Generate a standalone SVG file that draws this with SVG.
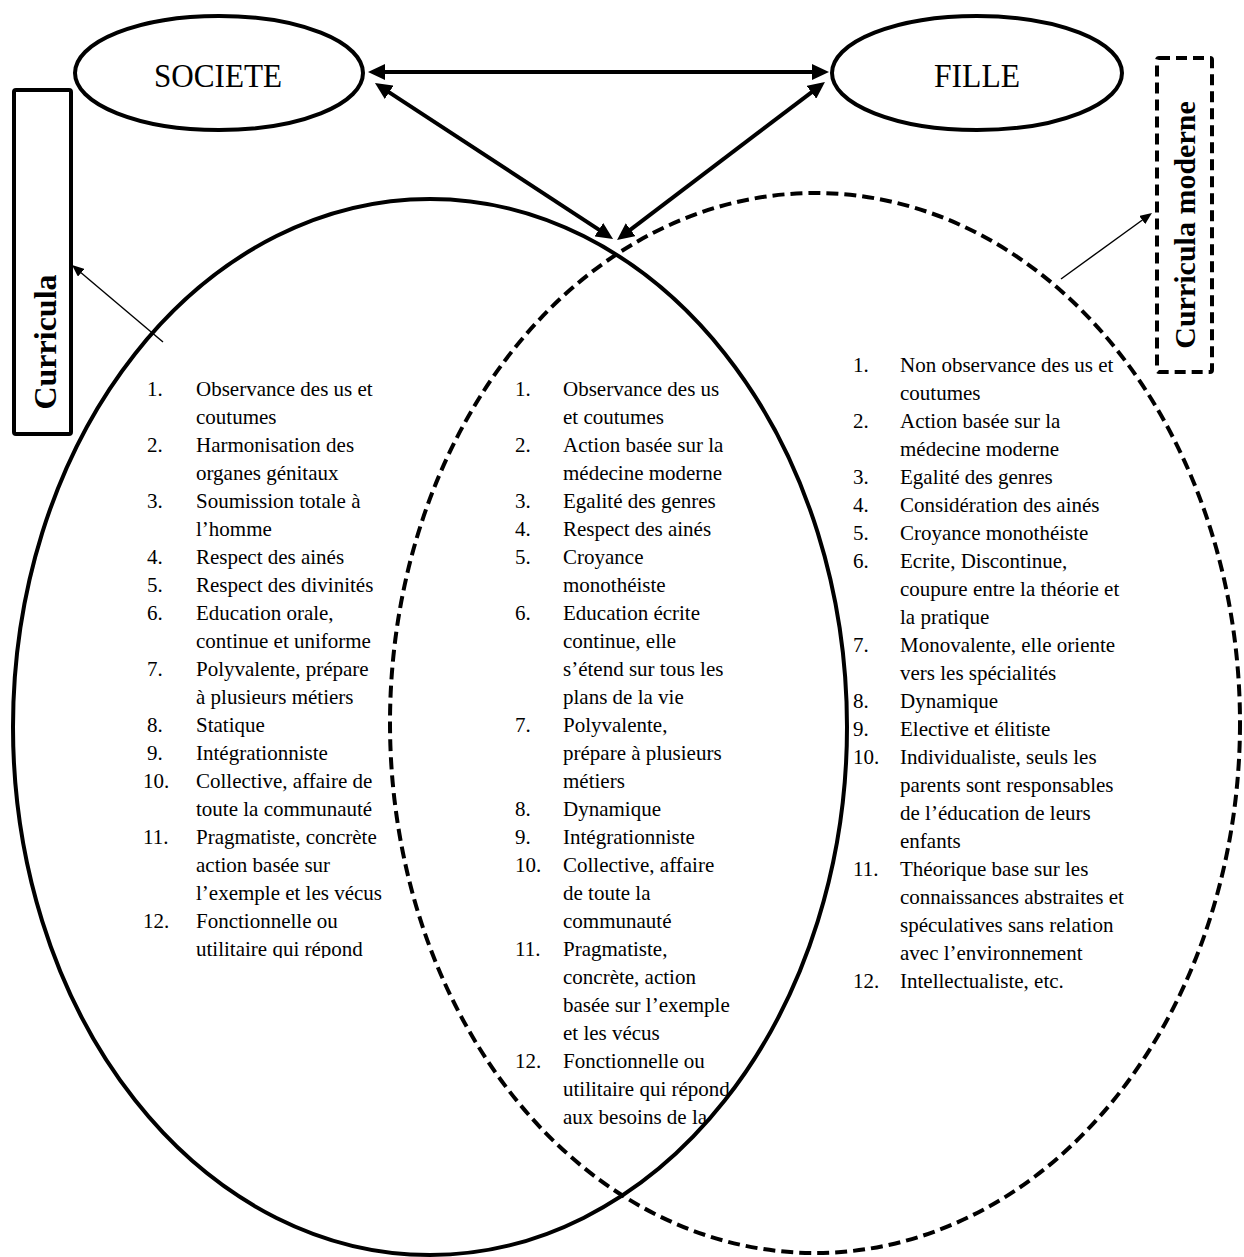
<svg xmlns="http://www.w3.org/2000/svg" width="1244" height="1257" viewBox="0 0 1244 1257">
<style>
.bg{fill:#fff}
.node{fill:none;stroke:#000;stroke-width:4}
.dash{fill:none;stroke:#000;stroke-width:4;stroke-dasharray:12 6}
.dashbox{fill:none;stroke:#000;stroke-width:4;stroke-dasharray:11 6}
.thick{stroke:#000;stroke-width:4;fill:none}
.thin{stroke:#000;stroke-width:1.4;fill:none}
.title{font-family:"Liberation Serif","Times New Roman",serif;font-size:34px;fill:#000}
.vert{font-family:"Liberation Serif","Times New Roman",serif;font-weight:bold;fill:#000}
.li{font-family:"Liberation Serif","Times New Roman",serif;font-size:21px;fill:#000}
</style>
<defs>
<marker id="ah" markerUnits="userSpaceOnUse" markerWidth="18" markerHeight="16" refX="5" refY="8" orient="auto-start-reverse" viewBox="0 0 18 16">
<path d="M0,0 L17,8 L0,16 z" fill="#000"/>
</marker>
<marker id="ahs" markerUnits="userSpaceOnUse" markerWidth="13" markerHeight="10" refX="4" refY="5" orient="auto" viewBox="0 0 13 10">
<path d="M0,0 L12,5 L0,10 z" fill="#000"/>
</marker>
<clipPath id="clipL"><rect x="120" y="0" width="300" height="958"/></clipPath>
</defs>
<rect class="bg" x="0" y="0" width="1244" height="1257"/>

<g id="list-left" class="li" clip-path="url(#clipL)">
<text x="147" y="396">1.</text><text x="196" y="396">Observance des us et</text>
<text x="196" y="424">coutumes</text>
<text x="147" y="452">2.</text><text x="196" y="452">Harmonisation des</text>
<text x="196" y="480">organes génitaux</text>
<text x="147" y="508">3.</text><text x="196" y="508">Soumission totale à</text>
<text x="196" y="536">l’homme</text>
<text x="147" y="564">4.</text><text x="196" y="564">Respect des ainés</text>
<text x="147" y="592">5.</text><text x="196" y="592">Respect des divinités</text>
<text x="147" y="620">6.</text><text x="196" y="620">Education orale,</text>
<text x="196" y="648">continue et uniforme</text>
<text x="147" y="676">7.</text><text x="196" y="676">Polyvalente, prépare</text>
<text x="196" y="704">à plusieurs métiers</text>
<text x="147" y="732">8.</text><text x="196" y="732">Statique</text>
<text x="147" y="760">9.</text><text x="196" y="760">Intégrationniste</text>
<text x="143" y="788">10.</text><text x="196" y="788">Collective, affaire de</text>
<text x="196" y="816">toute la communauté</text>
<text x="143" y="844">11.</text><text x="196" y="844">Pragmatiste, concrète</text>
<text x="196" y="872">action basée sur</text>
<text x="196" y="900">l’exemple et les vécus</text>
<text x="143" y="928">12.</text><text x="196" y="928">Fonctionnelle ou</text>
<text x="196" y="956">utilitaire qui répond</text>
</g>

<g id="list-middle" class="li">
<text x="515" y="396">1.</text><text x="563" y="396">Observance des us</text>
<text x="563" y="424">et coutumes</text>
<text x="515" y="452">2.</text><text x="563" y="452">Action basée sur la</text>
<text x="563" y="480">médecine moderne</text>
<text x="515" y="508">3.</text><text x="563" y="508">Egalité des genres</text>
<text x="515" y="536">4.</text><text x="563" y="536">Respect des ainés</text>
<text x="515" y="564">5.</text><text x="563" y="564">Croyance</text>
<text x="563" y="592">monothéiste</text>
<text x="515" y="620">6.</text><text x="563" y="620">Education écrite</text>
<text x="563" y="648">continue, elle</text>
<text x="563" y="676">s’étend sur tous les</text>
<text x="563" y="704">plans de la vie</text>
<text x="515" y="732">7.</text><text x="563" y="732">Polyvalente,</text>
<text x="563" y="760">prépare à plusieurs</text>
<text x="563" y="788">métiers</text>
<text x="515" y="816">8.</text><text x="563" y="816">Dynamique</text>
<text x="515" y="844">9.</text><text x="563" y="844">Intégrationniste</text>
<text x="515" y="872">10.</text><text x="563" y="872">Collective, affaire</text>
<text x="563" y="900">de toute la</text>
<text x="563" y="928">communauté</text>
<text x="515" y="956">11.</text><text x="563" y="956">Pragmatiste,</text>
<text x="563" y="984">concrète, action</text>
<text x="563" y="1012">basée sur l’exemple</text>
<text x="563" y="1040">et les vécus</text>
<text x="515" y="1068">12.</text><text x="563" y="1068">Fonctionnelle ou</text>
<text x="563" y="1096">utilitaire qui répond</text>
<text x="563" y="1124">aux besoins de la</text>
</g>

<g id="list-right" class="li">
<text x="853" y="372">1.</text><text x="900" y="372">Non observance des us et</text>
<text x="900" y="400">coutumes</text>
<text x="853" y="428">2.</text><text x="900" y="428">Action basée sur la</text>
<text x="900" y="456">médecine moderne</text>
<text x="853" y="484">3.</text><text x="900" y="484">Egalité des genres</text>
<text x="853" y="512">4.</text><text x="900" y="512">Considération des ainés</text>
<text x="853" y="540">5.</text><text x="900" y="540">Croyance monothéiste</text>
<text x="853" y="568">6.</text><text x="900" y="568">Ecrite, Discontinue,</text>
<text x="900" y="596">coupure entre la théorie et</text>
<text x="900" y="624">la pratique</text>
<text x="853" y="652">7.</text><text x="900" y="652">Monovalente, elle oriente</text>
<text x="900" y="680">vers les spécialités</text>
<text x="853" y="708">8.</text><text x="900" y="708">Dynamique</text>
<text x="853" y="736">9.</text><text x="900" y="736">Elective et élitiste</text>
<text x="853" y="764">10.</text><text x="900" y="764">Individualiste, seuls les</text>
<text x="900" y="792">parents sont responsables</text>
<text x="900" y="820">de l’éducation de leurs</text>
<text x="900" y="848">enfants</text>
<text x="853" y="876">11.</text><text x="900" y="876">Théorique base sur les</text>
<text x="900" y="904">connaissances abstraites et</text>
<text x="900" y="932">spéculatives sans relation</text>
<text x="900" y="960">avec l’environnement</text>
<text x="853" y="988">12.</text><text x="900" y="988">Intellectualiste, etc.</text>
</g>

<g id="ellipse-traditional">
<ellipse class="node" cx="430" cy="727" rx="417" ry="528"/>
</g>
<g id="ellipse-modern">
<ellipse class="dash" cx="815" cy="723" rx="425" ry="530"/>
</g>

<g id="node-societe">
<ellipse class="node" cx="219" cy="73" rx="144" ry="57"/>
<text class="title" x="218" y="87" text-anchor="middle" textLength="128" lengthAdjust="spacingAndGlyphs">SOCIETE</text>
</g>
<g id="node-fille">
<ellipse class="node" cx="977" cy="73" rx="145" ry="57"/>
<text class="title" x="977" y="87" text-anchor="middle" textLength="86" lengthAdjust="spacingAndGlyphs">FILLE</text>
</g>

<g id="node-curricula">
<rect class="node" x="14" y="90" width="57" height="344" rx="2"/>
<text class="vert" font-size="32" transform="translate(56,342) rotate(-90)" text-anchor="middle">Curricula</text>
</g>
<g id="node-curricula-moderne">
<rect class="dashbox" x="1157" y="58" width="55" height="314" rx="2"/>
<text class="vert" font-size="30" transform="translate(1195,225) rotate(-90)" text-anchor="middle">Curricula moderne</text>
</g>

<g id="connectors">
<line class="thick" x1="380" y1="72" x2="817" y2="72" marker-start="url(#ah)" marker-end="url(#ah)"/>
<line class="thick" x1="385" y1="89.6" x2="603" y2="232.4" marker-start="url(#ah)" marker-end="url(#ah)"/>
<line class="thick" x1="815.4" y1="89.3" x2="626.6" y2="232.7" marker-start="url(#ah)" marker-end="url(#ah)"/>
<line class="thin" x1="163" y1="342" x2="78.1" y2="270.2" marker-end="url(#ahs)"/>
<line class="thin" x1="1061" y1="279" x2="1145.5" y2="217.7" marker-end="url(#ahs)"/>
</g>
</svg>
